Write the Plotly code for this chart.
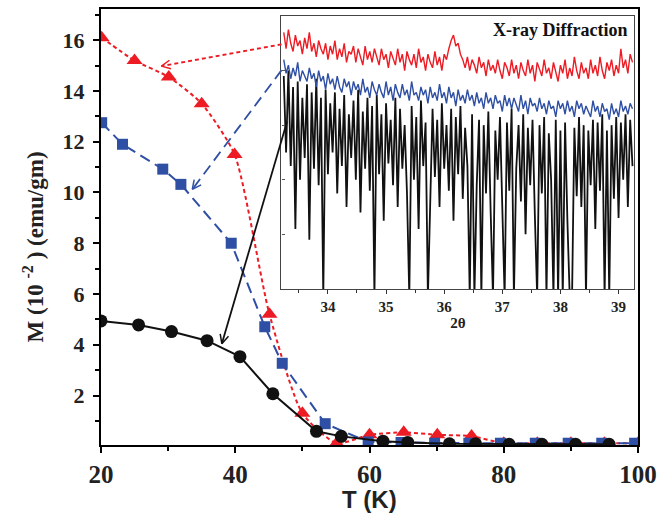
import math
import plotly.graph_objects as go

# ---------------- main data ----------------
T_black = [20, 25.6, 30.5, 35.8, 40.7, 45.6, 52.1, 55.8, 62, 65.7, 71.9, 75.8, 80.8, 85.7, 90.7, 95.7]
M_black = [4.94, 4.78, 4.52, 4.16, 3.53, 2.07, 0.59, 0.39, 0.2, 0.15, 0.1, 0.1, 0.08, 0.08, 0.08, 0.08]

T_blue = [20.1, 23.2, 29.2, 31.9, 39.4, 44.4, 47.0, 53.4, 59.8, 64.7, 69.7, 74.8, 79.5, 84.7, 89.6, 94.6, 99.5]
M_blue = [12.75, 11.9, 10.92, 10.32, 8.0, 4.71, 3.27, 0.89, 0.17, 0.15, 0.12, 0.12, 0.12, 0.12, 0.12, 0.12, 0.12]

T_red = [20.1, 25.0, 30.1, 35.0, 39.9, 45.1, 50.0, 55.1, 60.0, 65.1, 70.1, 75.2, 80, 85, 90, 95, 100]
M_red = [16.1, 15.2, 14.55, 13.5, 11.5, 5.2, 1.3, 0.12, 0.45, 0.55, 0.45, 0.4, 0.12, 0.12, 0.12, 0.12, 0.12]

x_ticks = [20, 40, 60, 80, 100]
y_ticks = [2, 4, 6, 8, 10, 12, 14, 16]

# ---------------- inset (XRD) data ----------------
two_theta = [33.24, 33.28, 33.32, 33.36, 33.40, 33.44, 33.48, 33.52, 33.56, 33.60,
             33.64, 33.68, 33.72, 33.76, 33.80, 33.84, 33.88, 33.92, 33.96, 34.00,
             34.04, 34.08, 34.12, 34.16, 34.20, 34.24, 34.28, 34.32, 34.36, 34.40,
             34.44, 34.48, 34.52, 34.56, 34.60, 34.64, 34.68, 34.72, 34.76, 34.80,
             34.84, 34.88, 34.92, 34.96, 35.00, 35.04, 35.08, 35.12, 35.16, 35.20,
             35.24, 35.28, 35.32, 35.36, 35.40, 35.44, 35.48, 35.52, 35.56, 35.60,
             35.64, 35.68, 35.72, 35.76, 35.80, 35.84, 35.88, 35.92, 35.96, 36.00,
             36.04, 36.08, 36.12, 36.16, 36.20, 36.24, 36.28, 36.32, 36.36, 36.40,
             36.44, 36.48, 36.52, 36.56, 36.60, 36.64, 36.68, 36.72, 36.76, 36.80,
             36.84, 36.88, 36.92, 36.96, 37.00, 37.04, 37.08, 37.12, 37.16, 37.20,
             37.24, 37.28, 37.32, 37.36, 37.40, 37.44, 37.48, 37.52, 37.56, 37.60,
             37.64, 37.68, 37.72, 37.76, 37.80, 37.84, 37.88, 37.92, 37.96, 38.00,
             38.04, 38.08, 38.12, 38.16, 38.20, 38.24, 38.28, 38.32, 38.36, 38.40,
             38.44, 38.48, 38.52, 38.56, 38.60, 38.64, 38.68, 38.72, 38.76, 38.80,
             38.84, 38.88, 38.92, 38.96, 39.00, 39.04, 39.08, 39.12, 39.16, 39.20,
             39.24]

xrd_red = [94, 88, 95, 90, 87, 93, 89, 91, 86, 92,
           88, 94, 87, 90, 85, 91, 88, 86, 90, 84,
           89, 86, 91, 84, 88, 85, 90, 83, 87, 86,
           89, 83, 88, 85, 82, 89, 84, 87, 83, 88,
           85, 82, 88, 84, 86, 81, 87, 84, 82, 88,
           83, 86, 80, 87, 84, 82, 86, 81, 88, 83,
           85, 80, 86, 83, 81, 87, 82, 85, 80, 86,
           84, 88, 91, 93, 89, 90, 86, 84, 81, 85,
           80, 84, 82, 79, 85, 81, 83, 78, 84, 80,
           82, 79, 84, 80, 77, 83, 81, 78, 84, 79,
           82, 77, 83, 80, 78, 84, 79, 82, 76, 83,
           80, 78, 84, 79, 81, 77, 83, 80, 76, 82,
           79, 84, 77, 81, 78, 85, 80, 77, 83, 79,
           81, 77, 84, 79, 82, 78, 85, 80, 77, 83,
           80, 84, 78, 82, 79, 88, 81, 84, 79, 86,
           83]

xrd_blue = [84, 79, 82, 77, 81, 78, 83, 76, 80, 78,
            76, 81, 77, 79, 74, 80, 76, 78, 73, 79,
            75, 77, 73, 78, 74, 72, 77, 74, 76, 71,
            76, 73, 75, 71, 77, 72, 74, 70, 76, 73,
            71, 75, 72, 70, 76, 71, 74, 69, 75, 72,
            70, 75, 71, 73, 69, 76, 71, 72, 69, 74,
            71, 73, 68, 74, 70, 72, 69, 75, 70, 72,
            68, 74, 70, 72, 67, 73, 69, 71, 68, 73,
            69, 71, 67, 72, 68, 70, 66, 72, 68, 70,
            66, 71, 68, 69, 65, 71, 67, 70, 66, 70,
            67, 65, 71, 66, 69, 64, 70, 67, 68, 65,
            70, 66, 68, 64, 69, 66, 67, 63, 69, 66,
            68, 64, 69, 65, 67, 63, 69, 66, 68, 64,
            67, 65, 63, 69, 65, 67, 63, 68, 65, 66,
            62, 68, 64, 66, 63, 69, 65, 67, 64, 68,
            66]

xrd_black = [78, 50, 80, 45, 74, 22, 76, 40, 70, 48,
             75, 18, 72, 44, 77, 38, 70, -3, 73, 42,
             68, 50, 72, 35, 66, 45, 71, 30, 64, 48,
             69, 40, 73, 28, 65, 44, 70, 36, 67, -3,
             71, 42, 64, 25, 68, 46, 62, 38, 70, 30,
             66, 44, 60, 35, -3, 67, 40, 63, 22, 69,
             45, 61, -3, 38, 66, 41, 62, 30, 68, 44,
             60, 36, 66, 25, 63, 42, 67, 33, 59, 45,
             -3, 64, -3, 38, 62, -3, 60, 35, 65, 28,
             -3, 58, 40, 63, 30, -3, 61, 36, 66, -3,
             44, 60, 32, 64, 20, 59, 38, 62, 27, -3,
             60, 35, 63, -3, 57, 40, -3, 62, -3, 58,
             -3, 61, 25, -3, -3, 59, 34, 63, 30, 60,
             -3, 58, 38, 62, 22, 61, 36, 64, -3, 58,
             -3, 60, 33, 63, 26, 61, 40, 64, 30, 62,
             45]

inset_ticks = [34, 35, 36, 37, 38, 39]

RED = "#ED1C24"
BLUE = "#2E4FA3"
BLACK = "#111111"
SERIF = "Liberation Serif"

# ---------------- figure geometry ----------------
W, H = 664, 513
ML, MR, MT, MB = 101, 22, 7, 68
XR = [20, 100]
YR = [0.05, 17.23]
PW, PH = W - ML - MR, H - MT - MB
sx = PW / (XR[1] - XR[0])
sy = PH / (YR[1] - YR[0])

fig = go.Figure()

fig.add_trace(go.Scatter(x=T_red, y=M_red, mode="lines+markers",
                         line=dict(color=RED, width=2, dash="4px,3px", shape="spline", smoothing=0.6),
                         marker=dict(symbol="triangle-up", size=14, color=RED),
                         showlegend=False))
fig.add_trace(go.Scatter(x=T_blue, y=M_blue, mode="lines+markers",
                         line=dict(color=BLUE, width=2, dash="11px,6px"),
                         marker=dict(symbol="square", size=11, color=BLUE),
                         showlegend=False))
fig.add_trace(go.Scatter(x=T_black, y=M_black, mode="lines+markers",
                         line=dict(color=BLACK, width=2),
                         marker=dict(symbol="circle", size=13, color=BLACK),
                         showlegend=False))

# inset traces
fig.add_trace(go.Scatter(x=two_theta, y=xrd_black, xaxis="x2", yaxis="y2", mode="lines",
                         line=dict(color=BLACK, width=1.8), showlegend=False))
fig.add_trace(go.Scatter(x=two_theta, y=xrd_blue, xaxis="x2", yaxis="y2", mode="lines",
                         line=dict(color=BLUE, width=1.4), showlegend=False))
fig.add_trace(go.Scatter(x=two_theta, y=xrd_red, xaxis="x2", yaxis="y2", mode="lines",
                         line=dict(color=RED, width=1.4), showlegend=False))

# ---------------- arrows ----------------
arrows = [
    ((46.9, 15.84), (29.0, 14.98), RED, "4px,3px"),
    ((46.9, 14.82), (33.6, 10.12), BLUE, "11px,6px"),
    ((47.7, 12.78), (38.0, 4.04), BLACK, "solid"),
]
shapes = []
for (x0, y0), (x1, y1), col, dash in arrows:
    shapes.append(dict(type="line", xref="x", yref="y", x0=x0, y0=y0, x1=x1, y1=y1,
                       line=dict(color=col, width=1.8, dash=dash)))
    dx, dy = (x1 - x0) * sx, (y1 - y0) * sy
    L = math.hypot(dx, dy)
    ux, uy = dx / L, dy / L
    for ang in (0.45, -0.45):
        c, s = math.cos(ang), math.sin(ang)
        rx, ry = ux * c - uy * s, ux * s + uy * c
        shapes.append(dict(type="line", xref="x", yref="y",
                           x0=x1, y0=y1, x1=x1 - 10 * rx / sx, y1=y1 - 10 * ry / sy,
                           line=dict(color=col, width=1.5)))

fig.update_layout(
    width=W, height=H,
    margin=dict(l=ML, r=MR, t=MT, b=MB),
    paper_bgcolor="white", plot_bgcolor="white",
    shapes=shapes,
    xaxis=dict(range=XR, tickvals=x_ticks, ticks="outside", ticklen=6, tickwidth=2,
               tickcolor="black", showline=True, linewidth=2, linecolor="black", mirror=True,
               showgrid=False, zeroline=False,
               tickfont=dict(family=SERIF, size=25, color="#222", weight="bold"),
               minor=dict(ticks="outside", ticklen=4, tickwidth=2, dtick=10, tickcolor="black")),
    yaxis=dict(range=YR, tickvals=y_ticks, ticks="outside", ticklen=6, tickwidth=2,
               tickcolor="black", showline=True, linewidth=2, linecolor="black", mirror=True,
               showgrid=False, zeroline=False, ticklabelstandoff=4,
               tickfont=dict(family=SERIF, size=22, color="#222", weight="bold"),
               minor=dict(ticks="outside", ticklen=4, tickwidth=2, tick0=1, dtick=1, tickcolor="black")),
    xaxis2=dict(domain=[0.336, 0.993], anchor="y2", range=[33.2, 39.27], tickvals=inset_ticks,
                ticks="outside", ticklen=4, tickwidth=1, tickcolor="#333",
                showline=True, linewidth=1.2, linecolor="#444", mirror=True,
                showgrid=False, zeroline=False,
                tickfont=dict(family=SERIF, size=15, color="#222", weight="bold"),
                minor=dict(ticks="outside", ticklen=3, dtick=0.5, tick0=33.5, tickcolor="#333"),
                title=dict(text="<b>2θ</b>", font=dict(family=SERIF, size=15, color="#222"), standoff=2)),
    yaxis2=dict(domain=[0.358, 0.984], anchor="x2", range=[0, 100], showticklabels=False,
                ticks="inside", ticklen=3, dtick=20, tickcolor="#555",
                showline=True, linewidth=1.2, linecolor="#444", mirror=True,
                showgrid=False, zeroline=False),
    annotations=[
        dict(text="<b>X-ray Diffraction</b>", xref="paper", yref="paper", x=0.983, y=0.952,
             xanchor="right", yanchor="middle", showarrow=False,
             font=dict(family=SERIF, size=18, color="#111")),
        dict(text="<b>M (10 <sup>-2</sup> ) (emu/gm)</b>", xref="paper", yref="paper",
             x=-0.126, y=0.454, textangle=-90, xanchor="center", yanchor="middle", showarrow=False,
             font=dict(family=SERIF, size=23, color="#222")),
        dict(text="<b>T (K)</b>", xref="paper", yref="paper", x=0.5, y=-0.125,
             xanchor="center", yanchor="middle", showarrow=False,
             font=dict(family="Liberation Sans", size=24, color="#222")),
    ],
)

fig.write_html("out.html")
